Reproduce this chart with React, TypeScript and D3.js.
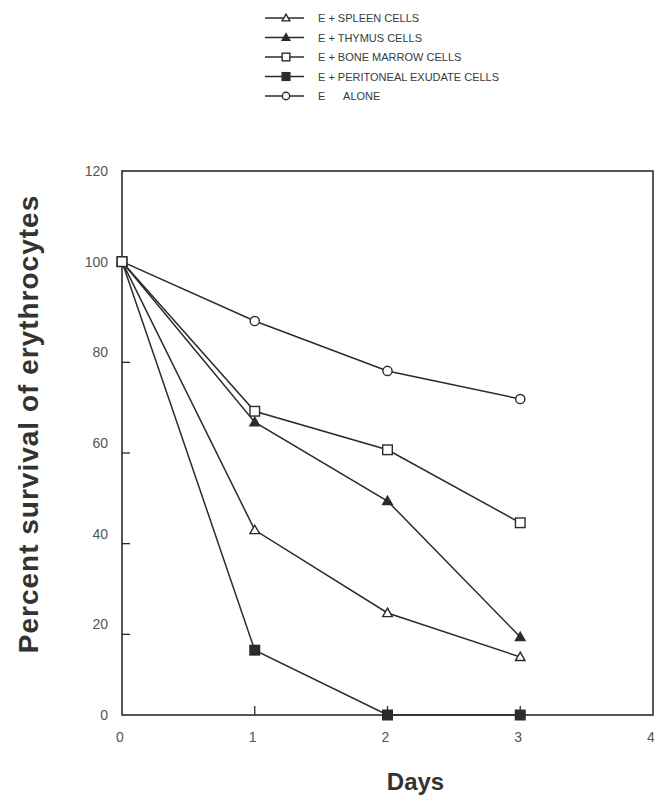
import React from 'react';
import * as d3 from 'd3';

// days after incubation
const days = [0, 1, 2, 3];

// percent survival of erythrocytes per group
const spleen = [100, 40.8, 22.5, 12.8];
const thymus = [100, 64.6, 47.2, 17.2];
const boneMarrow = [100, 67, 58.5, 42.4];
const peritoneal = [100, 14.3, 0, 0];
const alone = [100, 86.9, 75.9, 69.7];

const seriesNames = [
  'E + SPLEEN CELLS',
  'E + THYMUS CELLS',
  'E + BONE MARROW CELLS',
  'E + PERITONEAL EXUDATE CELLS',
  'E      ALONE',
];
const seriesMarkers = ['triangleOpen', 'triangleFilled', 'squareOpen', 'squareFilled', 'circleOpen'];

const xTicks = [0, 1, 2, 3, 4];
const yTicks = [0, 20, 40, 60, 80, 100, 120];

const W = 654;
const H = 801;
const INK = '#2b2b2b';

const Marker: React.FC<{ kind: string; x: number; y: number; size?: number }> = ({ kind, x, y, size = 1 }) => {
  const filled = kind.endsWith('Filled');
  const fill = filled ? INK : '#fff';
  if (kind.startsWith('triangle')) {
    const s = 4.8 * size;
    const pts = `${x},${y - s} ${x + s},${y + s * 0.75} ${x - s},${y + s * 0.75}`;
    return <polygon points={pts} fill={fill} stroke={INK} strokeWidth={1.4} />;
  }
  if (kind.startsWith('square')) {
    const s = 4.8 * size;
    return <rect x={x - s} y={y - s} width={s * 2} height={s * 2} fill={fill} stroke={INK} strokeWidth={1.4} />;
  }
  return <circle cx={x} cy={y} r={4.6 * size} fill={fill} stroke={INK} strokeWidth={1.4} />;
};

export default function App() {
  const series = [spleen, thymus, boneMarrow, peritoneal, alone];

  const x = d3.scaleLinear().domain([0, 4]).range([122, 653]);
  const y = d3.scaleLinear().domain([0, 120]).range([715, 171]);
  const line = d3.line<number>()
    .x((_, i) => x(days[i]))
    .y(d => y(d));

  // the printed tick marks sit a little below their labels
  const tickShift = 10;

  const legendY = d3.scalePoint<string>().domain(seriesNames).range([18, 96]);

  // draw order: alone first, bone marrow last so its square shows at day 0
  const order = [4, 0, 1, 3, 2];

  return (
    <svg width={W} height={H} style={{ position: 'absolute', left: 0, top: 0, background: '#fff' }}>
      {/* legend */}
      <g fontFamily="'Liberation Sans', Arial, sans-serif" fontSize={11} fill="#3a3a3a">
        {seriesNames.map((name, i) => {
          const ly = legendY(name) ?? 0;
          return (
            <g key={name}>
              <line x1={265} x2={304} y1={ly} y2={ly} stroke={INK} strokeWidth={1.4} />
              <Marker kind={seriesMarkers[i]} x={286} y={ly} size={0.8} />
              <text x={318} y={ly + 4} style={{ whiteSpace: 'pre' }}>{name}</text>
            </g>
          );
        })}
      </g>

      {/* frame */}
      <rect x={x(0)} y={y(120)} width={x(4) - x(0)} height={y(0) - y(120)} fill="none" stroke={INK} strokeWidth={1.6} />

      {/* y ticks */}
      <g fontFamily="'Liberation Sans', Arial, sans-serif" fontSize={14} fill="#555">
        {yTicks.map(t => (
          <g key={t}>
            {t > 0 && t < 100 && (
              <line x1={x(0)} x2={x(0) + 8} y1={y(t) + tickShift} y2={y(t) + tickShift} stroke={INK} strokeWidth={1.3} />
            )}
            <text x={108} y={y(t) + 5} textAnchor="end">{t}</text>
          </g>
        ))}
      </g>

      {/* x ticks */}
      <g fontFamily="'Liberation Sans', Arial, sans-serif" fontSize={14} fill="#555">
        {xTicks.map(t => (
          <g key={t}>
            {t > 0 && t < 4 && (
              <line x1={x(t)} x2={x(t)} y1={y(0)} y2={y(0) - 9} stroke={INK} strokeWidth={1.3} />
            )}
            <text x={x(t) - 2} y={y(0) + 27} textAnchor="middle">{t}</text>
          </g>
        ))}
      </g>

      {/* series */}
      {order.map(i => (
        <g key={seriesNames[i]}>
          <path d={line(series[i]) ?? ''} fill="none" stroke={INK} strokeWidth={1.5} />
          {series[i].map((v, j) => (
            <Marker key={j} kind={seriesMarkers[i]} x={x(days[j])} y={y(v)} />
          ))}
        </g>
      ))}

      {/* axis titles */}
      <text
        x={x(2) + 28}
        y={790}
        textAnchor="middle"
        fontFamily="'Liberation Sans', Arial, sans-serif"
        fontWeight="bold"
        fontSize={24}
        fill="#333"
      >
        Days
      </text>
      <text
        transform={`translate(38, ${424}) rotate(-90)`}
        textAnchor="middle"
        fontFamily="'Liberation Sans', Arial, sans-serif"
        fontWeight="bold"
        fontSize={28}
        letterSpacing={1}
        fill="#333"
      >
        Percent survival of erythrocytes
      </text>
    </svg>
  );
}
